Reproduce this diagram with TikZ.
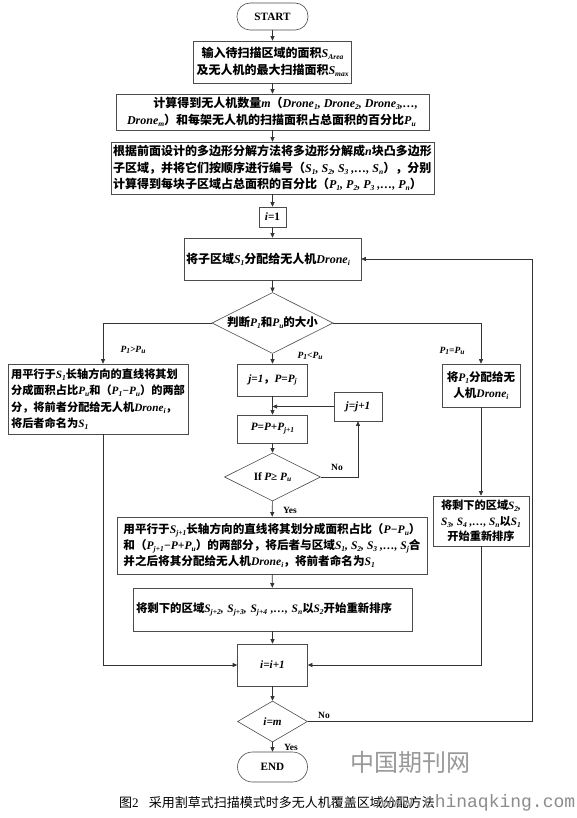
\documentclass[tikz,border=0pt]{standalone}
\usepackage{fontspec}
\setmainfont{Noto Sans CJK SC}
\newfontfamily\tm{Liberation Serif}
\newfontfamily\mono{Liberation Mono}
\usetikzlibrary{shapes.geometric,arrows.meta}
\newcommand\Vt[1]{{\tm\bfseries\itshape #1}}
\newcommand\Sub[1]{\raisebox{-0.35ex}{\fontsize{7.5}{8}\selectfont #1}}
\newcommand\Tb[1]{{\tm\bfseries #1}}
\begin{document}
\begin{tikzpicture}[x=1pt,y=-1pt,
  line width=0.6pt,
  every node/.style={font=\fontsize{12}{16.5}\selectfont\bfseries},
  box/.style={draw=black!70, rectangle, inner sep=2pt},
  term/.style={box, rounded corners=13pt},
  dia/.style={draw=black!70, diamond, inner sep=0pt},
  arr/.style={draw=black!80, -{Triangle[length=4.5pt,width=4pt]}},
  lab/.style={font=\fontsize{9.5}{10}\selectfont, inner sep=0pt},
]
\fill[white] (0,0) rectangle (576,818);
\useasboundingbox (0,0) rectangle (576,818);

% main column
\node[term, minimum width=71pt, minimum height=27pt, font=\fontsize{11.2}{13}\selectfont] (start) at (272.5,16.5) {\Tb{START}};
\node[box, minimum width=158pt, minimum height=42pt, align=center] (b1) at (272.5,62)
  {输入待扫描区域的面积\Vt{S\Sub{Area}}\\及无人机的最大扫描面积\Vt{S\Sub{max}}};
\node[box, minimum width=313pt, minimum height=36pt, align=left] (b2) at (272.5,112)
  {\hspace*{2.2em}计算得到无人机数量\Vt{m}（\Vt{Drone\Sub{1}, Drone\Sub{2}, Drone\Sub{3},…,}\\
   \Vt{Drone\Sub{m}}）和每架无人机的扫描面积占总面积的百分比\Vt{P\Sub{u}}};
\node[box, minimum width=320pt, minimum height=52pt, align=left] (b3) at (272.5,168)
  {根据前面设计的多边形分解方法将多边形分解成\Vt{n}块凸多边形\\
   子区域，并将它们按顺序进行编号（\Vt{S\Sub{1}, S\Sub{2}, S\Sub{3} ,…, S\Sub{n}}），分别\\
   计算得到每块子区域占总面积的百分比（\Vt{P\Sub{1}, P\Sub{2}, P\Sub{3} ,…, P\Sub{n}}）};
\node[box, minimum width=27pt, minimum height=20pt, font=\fontsize{11.2}{13}\selectfont] (i1) at (272.5,217) {\Vt{i}\Tb{=1}};
\node[box, minimum width=177pt, minimum height=42pt, text width=173pt, align=left] (b4) at (272.5,259)
  {将子区域\Vt{S\Sub{1}}分配给无人机\Vt{Drone\Sub{i}}};
\node[dia, minimum width=121pt, minimum height=61pt] (d1) at (272.5,323) {};
\node[font=\fontsize{11.5}{13}\selectfont\bfseries] (d1t) at (d1.center) {判断\Vt{P\Sub{1}}和\Vt{P\Sub{u}}的大小};

% left branch
\node[box, minimum width=180pt, minimum height=70pt, align=left,
  font=\fontsize{11.2}{16.5}\selectfont\bfseries] (L) at (98,399)
  {用平行于\Vt{S\Sub{1}}长轴方向的直线将其划\\
   分成面积占比\Vt{P\Sub{u}}和（\Vt{P\Sub{1}−P\Sub{u}}）的两部\\
   分，将前者分配给无人机\Vt{Drone\Sub{i}}，\\
   将后者命名为\Vt{S\Sub{1}}};

% middle branch
\node[box, minimum width=70pt, minimum height=32pt, font=\fontsize{11.2}{13}\selectfont\bfseries] (m1) at (272.5,380) {\Vt{j=1}，\Vt{P=P\Sub{j}}};
\node[box, minimum width=70pt, minimum height=28pt, font=\fontsize{11.2}{13}\selectfont] (m2) at (272.5,429) {\Vt{P=P+P\Sub{j+1}}};
\node[box, minimum width=48pt, minimum height=29pt, font=\fontsize{11.2}{13}\selectfont] (jj) at (358,406.5) {\Vt{j=j+1}};
\node[dia, minimum width=96pt, minimum height=48pt] (d2) at (272.5,477) {};
\node[font=\fontsize{11.2}{13}\selectfont] (d2t) at (d2.center) {\Tb{If} \Vt{P}\Tb{≥ }\Vt{P\Sub{u}}};
\node[box, minimum width=310pt, minimum height=57pt, align=left,
  font=\fontsize{11.6}{16}\selectfont\bfseries] (big) at (272,545.5)
  {用平行于\Vt{S\Sub{j+1}}长轴方向的直线将其划分成面积占比（\Vt{P−P\Sub{u}}）\\
   和（\Vt{P\Sub{j+1}−P+P\Sub{u}}）的两部分，将后者与区域\Vt{S\Sub{1}, S\Sub{2}, S\Sub{3} ,…, S\Sub{j}}合\\
   并之后将其分配给无人机\Vt{Drone\Sub{i}}，将前者命名为\Vt{S\Sub{1}}};
\node[box, minimum width=279pt, minimum height=43pt, text width=273pt, align=left,
  font=\fontsize{11.4}{16}\selectfont\bfseries] (rem) at (272.5,609.5)
  {将剩下的区域\Vt{S\Sub{j+2}, S\Sub{j+3}, S\Sub{j+4} ,…, S\Sub{n}}以\Vt{S\Sub{2}}开始重新排序};

% right branch
\node[box, minimum width=78pt, minimum height=43pt, align=center,
  font=\fontsize{11.5}{16}\selectfont\bfseries] (R1) at (481,385.5)
  {将\Vt{P\Sub{1}}分配给无\\人机\Vt{Drone\Sub{i}}};
\node[box, minimum width=96pt, minimum height=50pt, align=center,
  font=\fontsize{11.2}{15.5}\selectfont\bfseries] (R2) at (481,521)
  {将剩下的区域\Vt{S\Sub{2},}\\\Vt{S\Sub{3}, S\Sub{4} ,…, S\Sub{n}}以\Vt{S\Sub{1}}\\开始重新排序};

% bottom
\node[box, minimum width=70pt, minimum height=42pt, font=\fontsize{11.2}{13}\selectfont] (inc) at (272.5,665) {\Vt{i=i+1}};
\node[dia, minimum width=70pt, minimum height=41pt] (d3) at (272.5,721.5) {};
\node[font=\fontsize{11.2}{13}\selectfont] (d3t) at (d3.center) {\Vt{i=m}};
\node[term, rounded corners=15pt, minimum width=70pt, minimum height=30pt, font=\fontsize{11.2}{13}\selectfont] (end) at (272.5,767) {\Tb{END}};

% labels
\node[lab] (l1) at (133,350) {\Vt{P\Sub{1}>P\Sub{u}}};
\node[lab] (l2) at (310,356) {\Vt{P\Sub{1}<P\Sub{u}}};
\node[lab] (l3) at (452,351) {\Vt{P\Sub{1}=P\Sub{u}}};
\node[lab] (no1) at (337,467) {\Tb{No}};
\node[lab] (yes1) at (290,510) {\Tb{Yes}};
\node[lab] (no2) at (324,715) {\Tb{No}};
\node[lab] (yes2) at (291,747) {\Tb{Yes}};

% connectors
\draw[arr] (start) -- (b1);
\draw[arr] (b1) -- (b2);
\draw[arr] (b2) -- (b3);
\draw[arr] (b3) -- (i1);
\draw[arr] (i1) -- (b4);
\draw[arr] (b4) -- (d1);
\draw[arr] (d1.west) -| ([xshift=5pt]L.north);
\draw[arr] (d1.east) -| (R1.north);
\draw[arr] (d1) -- (m1);
\draw[arr] (m1) -- (m2);
\coordinate (jm) at (m1.south |- jj.west);
\draw[arr] (jj.west) -- (jm);
\draw[arr] (m2) -- (d2);
\draw[arr] (d2.east) -| (jj.south);
\draw[arr] (d2) -- (big);
\draw[arr] (big) -- (rem);
\draw[arr] (rem) -- (inc);
\draw[arr] ([xshift=5pt]L.south) |- (inc.west);
\draw[arr] (R1) -- (R2);
\draw[arr] (R2.south) |- (inc.east);
\draw[arr] (inc) -- (d3);
\draw[arr] (d3) -- (end);
\coordinate (ret) at (532,721.5);
\draw[arr] (d3.east) -- (ret) |- (b4.east);

% caption and watermark
\node (cap) at (277,803) {\fontsize{13}{14}\selectfont\mdseries 图{\tm 2}\hspace{0.8em}采用割草式扫描模式时多无人机覆盖区域分配方法};
\node[text=black!40] (wm1) at (410,762) {\fontsize{24}{24}\selectfont\mdseries 中国期刊网};
\node[text=black!45] (wm2) at (478,803) {\mono\fontsize{18}{18}\selectfont\mdseries www.chinaqking.com};
\end{tikzpicture}
\end{document}
